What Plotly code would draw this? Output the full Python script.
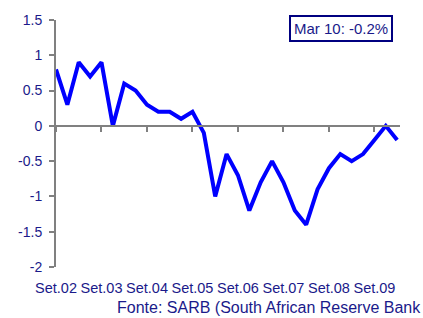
import plotly.graph_objects as go

# Quarterly series, Set.02 .. Mar.10
values = [0.8, 0.3, 0.9, 0.7, 0.9, 0.0, 0.6, 0.5, 0.3, 0.2, 0.2, 0.1, 0.2, -0.1,
          -1.0, -0.4, -0.7, -1.2, -0.8, -0.5, -0.8, -1.2, -1.4, -0.9, -0.6, -0.4,
          -0.5, -0.4, -0.2, 0.0, -0.2]
x_idx = list(range(len(values)))
tick_pos = [0, 4, 8, 12, 16, 20, 24, 28]
tick_labels = ["Set.02", "Set.03", "Set.04", "Set.05", "Set.06", "Set.07", "Set.08", "Set.09"]
y_ticks = [1.5, 1, 0.5, 0, -0.5, -1, -1.5, -2]
y_tick_text = ["1.5", "1", "0.5", "0", "-0.5", "-1", "-1.5", "-2"]
annotation_text = "Mar 10: -0.2%"
source_text = "Fonte: SARB (South African Reserve Bank"

NAVY = "#1a1a8a"
GRAY = "#808080"
FONT = "Liberation Sans, Arial, sans-serif"
ymin, ymax = -2, 1.5
xrange = [0, 30.25]

L, R, T, B = 56, 23, 20, 51
PW = 423 - L - R
PH = 318 - T - B

fig = go.Figure()
fig.add_trace(go.Scatter(x=x_idx, y=values, mode="lines",
                         line=dict(color="#0000ff", width=4),
                         hoverinfo="skip", showlegend=False))
# invisible trace to hold the axis drawn at y=0
fig.add_trace(go.Scatter(x=x_idx, y=values, xaxis="x2", mode="lines",
                         line=dict(color="rgba(0,0,0,0)", width=0),
                         hoverinfo="skip", showlegend=False))

fig.update_layout(
    width=423, height=318,
    margin=dict(l=L, r=R, t=T, b=B, autoexpand=False),
    paper_bgcolor="white", plot_bgcolor="white",
    font=dict(family=FONT, size=14, color=NAVY),
    xaxis=dict(range=xrange, tickmode="array", tickvals=tick_pos, ticktext=tick_labels,
               showline=False, showgrid=False, zeroline=False, automargin=False,
               ticks="outside", ticklen=8, tickcolor="rgba(0,0,0,0)",
               tickfont=dict(family=FONT, size=14.5, color=NAVY)),
    xaxis2=dict(range=xrange, overlaying="x", anchor="free",
                position=(0 - ymin) / (ymax - ymin), automargin=False,
                tickmode="array", tickvals=tick_pos,
                showticklabels=False, showline=True, linecolor=GRAY, linewidth=2,
                ticks="outside", ticklen=5, tickcolor=GRAY, tickwidth=1.5,
                showgrid=False, zeroline=False),
    yaxis=dict(range=[ymin, ymax], tickmode="array", tickvals=y_ticks, ticktext=y_tick_text,
               showline=True, linecolor=GRAY, linewidth=2, automargin=False,
               ticks="outside", ticklen=5, tickcolor=GRAY, tickwidth=1.5,
               showgrid=False, zeroline=False, ticklabelstandoff=4,
               tickfont=dict(family=FONT, size=14, color=NAVY)),
)

fig.add_annotation(xref="paper", yref="paper", x=(393 - L) / PW, y=1 + 5 / PH,
                   text=annotation_text, showarrow=False,
                   xanchor="right", yanchor="top",
                   font=dict(family=FONT, size=15, color=NAVY),
                   bordercolor="#000080", borderwidth=2, borderpad=3,
                   bgcolor="white")
fig.add_annotation(xref="paper", yref="paper", x=(423 - L) / PW, y=-B / PH,
                   text=source_text, showarrow=False,
                   xanchor="right", yanchor="bottom",
                   font=dict(family=FONT, size=16, color=NAVY))

fig.write_html("out.html", config={"displayModeBar": False},
               post_script="document.body.style.margin='0';")
